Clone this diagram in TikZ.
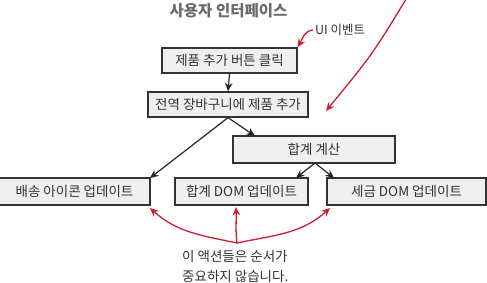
\documentclass[tikz,border=0pt]{standalone}
\usepackage{fontspec}
\setmainfont{Noto Sans CJK KR}
\usetikzlibrary{arrows.meta}
\definecolor{boxfill}{HTML}{EFEFEF}
\definecolor{boxline}{HTML}{333333}
\definecolor{txt}{HTML}{333333}
\definecolor{ttl}{HTML}{6B6B6B}
\definecolor{redline}{HTML}{CC1F2F}
\tikzset{
  stepbox/.style={draw=boxline, line width=1.3pt, fill=boxfill, inner sep=0pt,
    text=txt, font=\fontsize{13.5}{15}\selectfont},
  blackarrow/.style={draw=black!85, line width=1.2pt, -{Stealth[length=8.5pt,width=7.5pt]}},
  redarrow/.style={draw=redline, line width=1.3pt, -{Stealth[length=8.5pt,width=7.5pt]}},
}
\begin{document}
\begin{tikzpicture}[x=1pt,y=-1pt]
\useasboundingbox (0,0) rectangle (487,283);
\node[font=\bfseries\fontsize{15.5}{17}\selectfont, text=ttl] (title) at (228.5,11) {사용자 인터페이스};
\node[stepbox, minimum width=135pt, minimum height=25pt] (b1) at (229.5,60.5) {제품 추가 버튼 클릭};
\node[stepbox, minimum width=160pt, minimum height=25pt] (b2) at (228,104.5) {전역 장바구니에 제품 추가};
\node[stepbox, minimum width=162pt, minimum height=27pt] (b3) at (314,149.5) {합계 계산};
\node[stepbox, minimum width=151pt, minimum height=27pt] (b4) at (74.5,191.5) {배송 아이콘 업데이트};
\node[stepbox, minimum width=133pt, minimum height=27pt] (b5) at (241.5,191.5) {합계 DOM 업데이트};
\node[stepbox, minimum width=159pt, minimum height=27pt] (b6) at (406.5,191.5) {세금 DOM 업데이트};
\node[anchor=west, text=txt, font=\fontsize{12.5}{14}\selectfont, inner sep=0pt] (ui) at (315,30) {UI 이벤트};
\node[anchor=north west, text=txt, font=\fontsize{13.5}{20}\selectfont, align=left, inner sep=0pt] (note) at (182,250) {이 액션들은 순서가\\중요하지 않습니다.};
% coordinates
\coordinate (b3in) at (255,136);
\coordinate (b4in) at (150,178);
\coordinate (b5in) at (296,178);
\coordinate (b6in) at (334,178);
\coordinate (b3out) at (315,163);
\coordinate (top) at (408,-4);
\coordinate (tip) at (326,111);
\coordinate (j) at (237,243);
\coordinate (r4) at (150,208);
\coordinate (r5) at (236,207);
\coordinate (r6) at (330,208);
% black arrows
\draw[blackarrow] (b1.south) -- (b2.north);
\draw[blackarrow] (b2.south) -- (b3in);
\draw[blackarrow] (b2.south) -- (b4in);
\draw[blackarrow] (b3out) -- (b5in);
\draw[blackarrow] (b3out) -- (b6in);
% red arrows
\draw[redarrow] ([xshift=-2pt]ui.west) to[out=185,in=60] (b1.north east);
\draw[redarrow] (top) .. controls (372,55) .. (tip);
\draw[redarrow] (j) to[out=168,in=-42] (r4);
\draw[redarrow] (j) to[out=97,in=-88] (r5);
\draw[redarrow] (j) to[out=12,in=-138] (r6);
\end{tikzpicture}
\end{document}
